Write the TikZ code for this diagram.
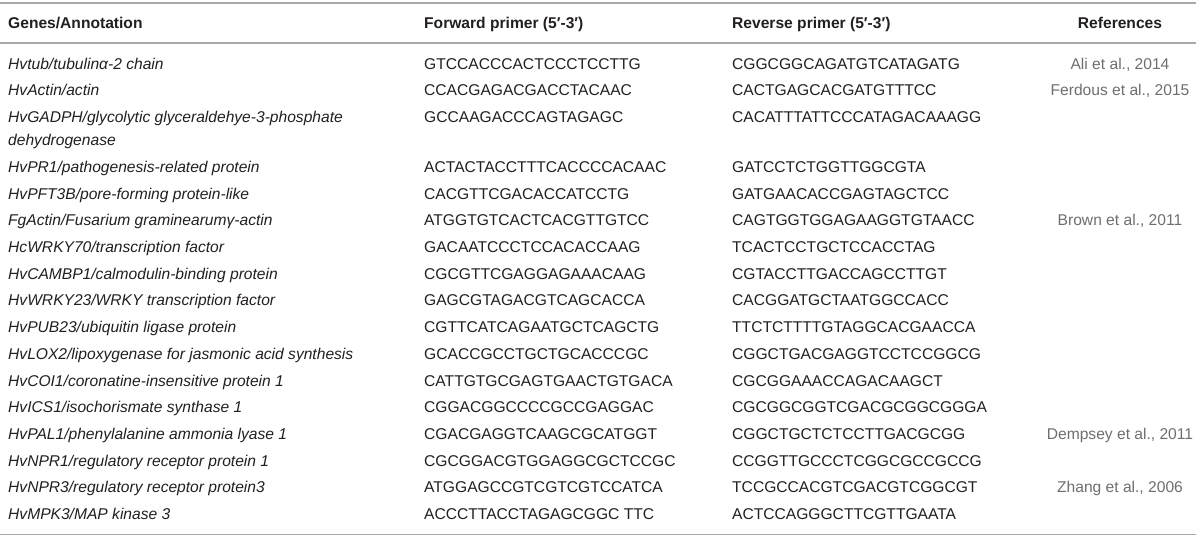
\documentclass[tikz,border=0pt]{standalone}
\usepackage{fontspec}
\setmainfont{Liberation Sans}
\definecolor{txt}{HTML}{231F20}
\definecolor{refc}{HTML}{6D6E71}
\definecolor{rulec}{HTML}{A7A9AC}
\begin{document}
\begin{tikzpicture}[x=1pt,y=-1pt,
  cell/.style={anchor=base west,inner sep=0pt,font=\fontsize{15.6}{18}\selectfont,text=txt},
  gene/.style={cell,font=\fontsize{15.6}{18}\selectfont\itshape},
  head/.style={cell,font=\fontsize{15.6}{18}\selectfont\bfseries},
  refcell/.style={anchor=base,inner sep=0pt,font=\fontsize{15.6}{18}\selectfont,text=refc},
  tabrule/.style={draw=rulec,line width=1.6pt}]
\useasboundingbox (0,0) rectangle (1200,539);
% rules
\coordinate (t0) at (0,3); \coordinate (t1) at (1196,3);
\coordinate (h0) at (0,43); \coordinate (h1) at (1196,43);
\coordinate (b0) at (0,534.5); \coordinate (b1) at (1196,534.5);
\draw[tabrule] (t0) -- (t1);
\draw[tabrule] (h0) -- (h1);
\draw[tabrule] (b0) -- (b1);
% header
\node[head] (hg) at (8,28) {Genes/Annotation};
\node[head] (hf) at (424,28) {Forward primer (5′-3′)};
\node[head] (hr) at (732,28) {Reverse primer (5′-3′)};
\node[head,anchor=base] (href) at (1120,28) {References};
% rows
\node[gene] (g1) at (8,69) {Hvtub/tubulinα-2 chain};
\node[cell] (f1) at (424,69) {GTCCACCCACTCCCTCCTTG};
\node[cell] (r1) at (732,69) {CGGCGGCAGATGTCATAGATG};
\node[refcell] (ref1) at (1120,69) {Ali et al., 2014};

\node[gene] (g2) at (8,95.7) {HvActin/actin};
\node[cell] (f2) at (424,95.7) {CCACGAGACGACCTACAAC};
\node[cell] (r2) at (732,95.7) {CACTGAGCACGATGTTTCC};
\node[refcell] (ref2) at (1120,95.7) {Ferdous et al., 2015};

\node[gene] (g3) at (8,122.4) {HvGADPH/glycolytic glyceraldehye-3-phosphate};
\node[gene] (g3b) at (8,145) {dehydrogenase};
\node[cell] (f3) at (424,122.4) {GCCAAGACCCAGTAGAGC};
\node[cell] (r3) at (732,122.4) {CACATTTATTCCCATAGACAAAGG};

\node[gene] (g4) at (8,172.4) {HvPR1/pathogenesis-related protein};
\node[cell] (f4) at (424,172.4) {ACTACTACCTTTCACCCCACAAC};
\node[cell] (r4) at (732,172.4) {GATCCTCTGGTTGGCGTA};

\node[gene] (g5) at (8,199.1) {HvPFT3B/pore-forming protein-like};
\node[cell] (f5) at (424,199.1) {CACGTTCGACACCATCCTG};
\node[cell] (r5) at (732,199.1) {GATGAACACCGAGTAGCTCC};

\node[gene] (g6) at (8,225.8) {FgActin/Fusarium graminearumγ-actin};
\node[cell] (f6) at (424,225.8) {ATGGTGTCACTCACGTTGTCC};
\node[cell] (r6) at (732,225.8) {CAGTGGTGGAGAAGGTGTAACC};
\node[refcell] (ref6) at (1120,225.8) {Brown et al., 2011};

\node[gene] (g7) at (8,252.5) {HcWRKY70/transcription factor};
\node[cell] (f7) at (424,252.5) {GACAATCCCTCCACACCAAG};
\node[cell] (r7) at (732,252.5) {TCACTCCTGCTCCACCTAG};

\node[gene] (g8) at (8,279.2) {HvCAMBP1/calmodulin-binding protein};
\node[cell] (f8) at (424,279.2) {CGCGTTCGAGGAGAAACAAG};
\node[cell] (r8) at (732,279.2) {CGTACCTTGACCAGCCTTGT};

\node[gene] (g9) at (8,305.9) {HvWRKY23/WRKY transcription factor};
\node[cell] (f9) at (424,305.9) {GAGCGTAGACGTCAGCACCA};
\node[cell] (r9) at (732,305.9) {CACGGATGCTAATGGCCACC};

\node[gene] (g10) at (8,332.6) {HvPUB23/ubiquitin ligase protein};
\node[cell] (f10) at (424,332.6) {CGTTCATCAGAATGCTCAGCTG};
\node[cell] (r10) at (732,332.6) {TTCTCTTTTGTAGGCACGAACCA};

\node[gene] (g11) at (8,359.3) {HvLOX2/lipoxygenase for jasmonic acid synthesis};
\node[cell] (f11) at (424,359.3) {GCACCGCCTGCTGCACCCGC};
\node[cell] (r11) at (732,359.3) {CGGCTGACGAGGTCCTCCGGCG};

\node[gene] (g12) at (8,386) {HvCOI1/coronatine-insensitive protein 1};
\node[cell] (f12) at (424,386) {CATTGTGCGAGTGAACTGTGACA};
\node[cell] (r12) at (732,386) {CGCGGAAACCAGACAAGCT};

\node[gene] (g13) at (8,412.7) {HvICS1/isochorismate synthase 1};
\node[cell] (f13) at (424,412.7) {CGGACGGCCCCGCCGAGGAC};
\node[cell] (r13) at (732,412.7) {CGCGGCGGTCGACGCGGCGGGA};

\node[gene] (g14) at (8,439.4) {HvPAL1/phenylalanine ammonia lyase 1};
\node[cell] (f14) at (424,439.4) {CGACGAGGTCAAGCGCATGGT};
\node[cell] (r14) at (732,439.4) {CGGCTGCTCTCCTTGACGCGG};
\node[refcell] (ref14) at (1120,439.4) {Dempsey et al., 2011};

\node[gene] (g15) at (8,466.1) {HvNPR1/regulatory receptor protein 1};
\node[cell] (f15) at (424,466.1) {CGCGGACGTGGAGGCGCTCCGC};
\node[cell] (r15) at (732,466.1) {CCGGTTGCCCTCGGCGCCGCCG};

\node[gene] (g16) at (8,492.8) {HvNPR3/regulatory receptor protein3};
\node[cell] (f16) at (424,492.8) {ATGGAGCCGTCGTCGTCCATCA};
\node[cell] (r16) at (732,492.8) {TCCGCCACGTCGACGTCGGCGT};
\node[refcell] (ref16) at (1120,492.8) {Zhang et al., 2006};

\node[gene] (g17) at (8,519.5) {HvMPK3/MAP kinase 3};
\node[cell] (f17) at (424,519.5) {ACCCTTACCTAGAGCGGC TTC};
\node[cell] (r17) at (732,519.5) {ACTCCAGGGCTTCGTTGAATA};
\end{tikzpicture}
\end{document}
